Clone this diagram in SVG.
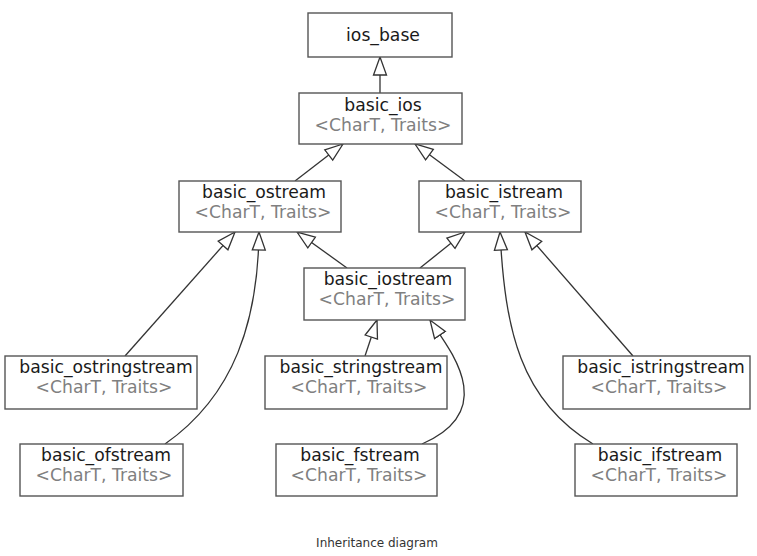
<svg xmlns="http://www.w3.org/2000/svg" width="757" height="556" viewBox="0 0 757 556">
<style>
.box{fill:#fff;stroke:#555;stroke-width:1.4}
.t{font-family:"DejaVu Sans",sans-serif;font-size:17.2px;fill:#1a1a1a;text-anchor:middle}
.s{font-family:"DejaVu Sans",sans-serif;font-size:17.2px;fill:#808080;text-anchor:middle}
.c{fill:none;stroke:#333;stroke-width:1.3}
.cap{font-family:"DejaVu Sans",sans-serif;font-size:12px;fill:#333;text-anchor:middle}
</style>
<defs>
<marker id="inh" markerUnits="userSpaceOnUse" markerWidth="20" markerHeight="16" viewBox="-1 -8 20 16" refX="18" refY="0" orient="auto">
<path d="M18,0 L0,-6.5 L0,6.5 Z" fill="#fff" stroke="#333" stroke-width="1.3"/>
</marker>
</defs>
<rect width="757" height="556" fill="#fff"/>
<g id="connectors">
<path class="c" d="M380,93 L380,57" marker-end="url(#inh)"/>
<path class="c" d="M295,181 L343,144" marker-end="url(#inh)"/>
<path class="c" d="M465,181 L415,144" marker-end="url(#inh)"/>
<path class="c" d="M125,356 L235,232" marker-end="url(#inh)"/>
<path class="c" d="M165,444 C235,395 258,320 259,232" marker-end="url(#inh)"/>
<path class="c" d="M347,268 L297,232" marker-end="url(#inh)"/>
<path class="c" d="M420,268 L465,232" marker-end="url(#inh)"/>
<path class="c" d="M633,356 L525,232" marker-end="url(#inh)"/>
<path class="c" d="M593,444 C520,400 505,330 500,232" marker-end="url(#inh)"/>
<path class="c" d="M365,356 L377,320" marker-end="url(#inh)"/>
<path class="c" d="M422,444 C500,410 450,350 430,320" marker-end="url(#inh)"/>
</g>
<g id="ios_base">
<rect class="box" x="308" y="13" width="144" height="44"/>
<text class="t" x="383" y="41">ios_base</text>
</g>
<g id="basic_ios">
<rect class="box" x="299" y="93" width="163" height="51"/>
<text class="t" x="383" y="111">basic_ios</text>
<text class="s" x="383" y="131">&lt;CharT, Traits&gt;</text>
</g>
<g id="basic_ostream">
<rect class="box" x="179" y="181" width="162" height="51"/>
<text class="t" x="264" y="198">basic_ostream</text>
<text class="s" x="263" y="218">&lt;CharT, Traits&gt;</text>
</g>
<g id="basic_istream">
<rect class="box" x="419" y="181" width="162" height="51"/>
<text class="t" x="504" y="198">basic_istream</text>
<text class="s" x="503" y="218">&lt;CharT, Traits&gt;</text>
</g>
<g id="basic_iostream">
<rect class="box" x="304" y="268" width="161" height="52"/>
<text class="t" x="388" y="285">basic_iostream</text>
<text class="s" x="387" y="305">&lt;CharT, Traits&gt;</text>
</g>
<g id="basic_ostringstream">
<rect class="box" x="5" y="356" width="192" height="53"/>
<text class="t" x="106" y="373">basic_ostringstream</text>
<text class="s" x="104" y="393">&lt;CharT, Traits&gt;</text>
</g>
<g id="basic_stringstream">
<rect class="box" x="265" y="356" width="182" height="53"/>
<text class="t" x="361" y="373">basic_stringstream</text>
<text class="s" x="359" y="393">&lt;CharT, Traits&gt;</text>
</g>
<g id="basic_istringstream">
<rect class="box" x="563" y="356" width="187" height="53"/>
<text class="t" x="661" y="373">basic_istringstream</text>
<text class="s" x="659" y="393">&lt;CharT, Traits&gt;</text>
</g>
<g id="basic_ofstream">
<rect class="box" x="20" y="444" width="163" height="52"/>
<text class="t" x="106" y="461">basic_ofstream</text>
<text class="s" x="104" y="481">&lt;CharT, Traits&gt;</text>
</g>
<g id="basic_fstream">
<rect class="box" x="276" y="444" width="161" height="52"/>
<text class="t" x="360" y="461">basic_fstream</text>
<text class="s" x="359" y="481">&lt;CharT, Traits&gt;</text>
</g>
<g id="basic_ifstream">
<rect class="box" x="575" y="444" width="162" height="52"/>
<text class="t" x="660" y="461">basic_ifstream</text>
<text class="s" x="659" y="481">&lt;CharT, Traits&gt;</text>
</g>
<text class="cap" x="377" y="547">Inheritance diagram</text>
</svg>
